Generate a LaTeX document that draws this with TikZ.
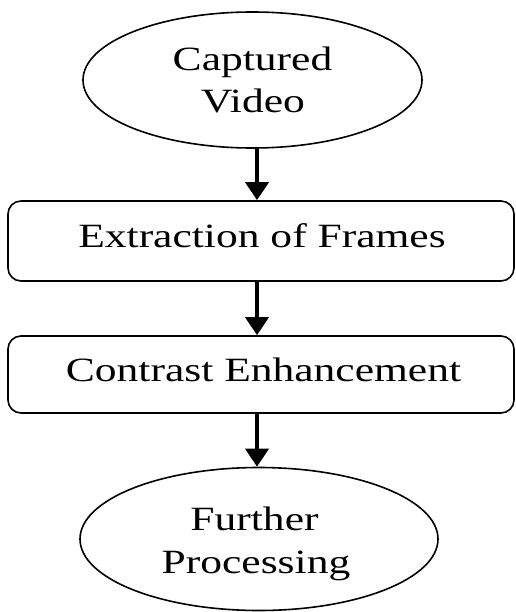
\documentclass[tikz,border=0pt]{standalone}
\usepackage{fontspec}
\setmainfont{Liberation Serif}
\usetikzlibrary{shapes.geometric,arrows.meta}
\newcommand{\wide}[1]{\scalebox{1.28}[1]{#1}}
\begin{document}
\begin{tikzpicture}[x=1pt,y=-1pt,
  term/.style={draw,ellipse,line width=1.6pt,inner sep=0pt},
  stepbox/.style={draw,rectangle,rounded corners=13pt,line width=1.6pt,inner sep=0pt},
  txt/.style={anchor=base,inner sep=0pt,font=\fontsize{34}{42}\selectfont},
  arr/.style={line width=3.6pt,-{Triangle[width=23pt,length=18pt]}}]
\useasboundingbox (0,0) rectangle (515,612);
% start and end ellipses
\node[term,minimum width=339pt,minimum height=136pt] (cv) at (252.5,80) {};
\node[term,minimum width=358pt,minimum height=143pt] (fp) at (259,539) {};
% processing steps
\node[stepbox,minimum width=506pt,minimum height=80pt] (ef) at (261,241) {};
\node[stepbox,minimum width=506pt,minimum height=77pt] (ce) at (261,374.5) {};
% labels
\node[txt] (cv1) at (252.5,71) {\wide{Captured}};
\node[txt] (cv2) at (253,113) {\wide{Video}};
\node[txt] (ef1) at (262,247) {\wide{Extraction of Frames}};
\node[txt] (ce1) at (263.5,381) {\wide{Contrast Enhancement}};
\node[txt] (fp1) at (254.5,530) {\wide{Further}};
\node[txt] (fp2) at (256,573) {\wide{Processing}};
% connectors
\coordinate (ax) at (257,0);
\draw[arr] (cv.south -| ax) -- (ef.north -| ax);
\draw[arr] (ef.south -| ax) -- (ce.north -| ax);
\draw[arr] (ce.south -| ax) -- (fp.north -| ax);
\end{tikzpicture}
\end{document}
